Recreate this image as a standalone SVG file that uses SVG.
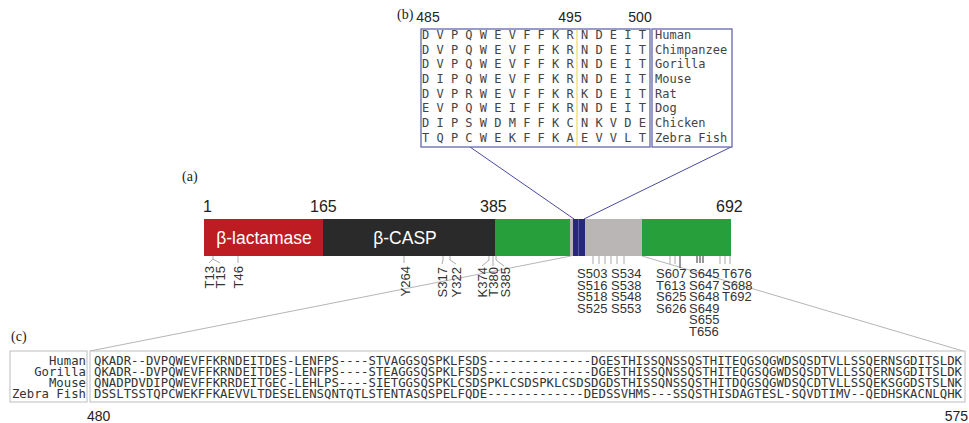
<svg xmlns="http://www.w3.org/2000/svg" width="969" height="423" viewBox="0 0 969 423">
<style>
.lbl{font-family:"Liberation Serif",serif;font-size:14px;fill:#222}
.num{font-family:"Liberation Sans",Arial,sans-serif;font-size:16px;fill:#222}
.dom{font-family:"Liberation Sans",Arial,sans-serif;font-size:17.5px;fill:#fff;text-anchor:middle}
.site{font-family:"Liberation Sans",Arial,sans-serif;font-size:13px;fill:#333}
.rot{text-anchor:end}
.mono{font-family:"DejaVu Sans Mono",monospace;font-size:12px;fill:#444}
.seq{font-family:"DejaVu Sans Mono",monospace;font-size:12.3px;fill:#333}
.bbox{fill:#fff;stroke:#6367ad;stroke-width:1.3}
.cbox{fill:#fff;stroke:#bdbdbd;stroke-width:1}
.tick{stroke:#aaa;stroke-width:1;fill:none}
.dtick{stroke:#333;stroke-width:1;fill:none}
.zoomb{stroke:#4a4aa0;stroke-width:1;fill:none}
.zoomc{stroke:#b5b5b5;stroke-width:1;fill:none}
</style>

<g id="connectors">
<line class="zoomb" x1="470" y1="147" x2="574" y2="219"/>
<line class="zoomb" x1="731" y1="147" x2="584" y2="219"/>
<line class="zoomc" x1="571" y1="256" x2="90" y2="351"/>
<line class="zoomc" x1="642" y1="256" x2="963" y2="351"/>
</g>

<g id="panel-b">
<text class="lbl" x="397" y="19">(b)</text>
<text class="num" x="428" y="22" text-anchor="middle" style="font-size:14px">485</text>
<text class="num" x="570" y="22" text-anchor="middle" style="font-size:14px">495</text>
<text class="num" x="640" y="22" text-anchor="middle" style="font-size:14px">500</text>
<rect class="bbox" x="421" y="29" width="229" height="118"/>
<rect class="bbox" x="652" y="29" width="80" height="118"/>
<line x1="577" y1="29.7" x2="577" y2="146.3" stroke="#f3e27a" stroke-width="1.5"/>
<g class="mono">
<text x="422" y="39">D V P Q W E V F F K R N D E I T</text>
<text x="422" y="53.65">D V P Q W E V F F K R N D E I T</text>
<text x="422" y="68.3">D V P Q W E V F F K R N D E I T</text>
<text x="422" y="82.95">D I P Q W E V F F K R N D E I T</text>
<text x="422" y="97.6">D V P R W E V F F K R K D E I T</text>
<text x="422" y="112.25">E V P Q W E I F F K R N D E I T</text>
<text x="422" y="126.9">D I P S W D M F F K C N K V D E</text>
<text x="422" y="141.55">T Q P C W E K F F K A E V V L T</text>
<text x="655" y="39">Human</text>
<text x="655" y="53.65">Chimpanzee</text>
<text x="655" y="68.3">Gorilla</text>
<text x="655" y="82.95">Mouse</text>
<text x="655" y="97.6">Rat</text>
<text x="655" y="112.25">Dog</text>
<text x="655" y="126.9">Chicken</text>
<text x="655" y="141.55">Zebra Fish</text>
</g>
</g>

<g id="panel-a">
<text class="lbl" x="182" y="181">(a)</text>
<text class="num" x="203" y="212">1</text>
<text class="num" x="310" y="212">165</text>
<text class="num" x="480" y="212">385</text>
<text class="num" x="716" y="212">692</text>
<g id="bar">
<rect x="204" y="219" width="119" height="37" fill="#bc1c22"/>
<rect x="323" y="219" width="172" height="37" fill="#2a2a2a"/>
<rect x="495" y="219" width="75" height="37" fill="#27a03c"/>
<rect x="570" y="219" width="3" height="37" fill="#b9b5b5"/>
<rect x="573" y="219" width="12" height="37" fill="#27287a"/>
<line x1="578.5" y1="219" x2="578.5" y2="256" stroke="#5a5aa0" stroke-width="1"/>
<rect x="585" y="219" width="57" height="37" fill="#bab6b6"/>
<rect x="642" y="219" width="89" height="37" fill="#27a03c"/>
<text class="dom" x="264" y="244">β-lactamase</text>
<text class="dom" x="405" y="244">β-CASP</text>
</g>
<g id="ticks">
<polyline class="tick" points="213,256 213,259 209,263"/>
<polyline class="tick" points="213,259 220,263"/>
<line class="tick" x1="238" y1="256" x2="238" y2="263"/>
<line class="tick" x1="404" y1="256" x2="404" y2="263"/>
<polyline class="tick" points="443,256 443,260 442,264"/>
<polyline class="tick" points="450,256 450,260 456,264"/>
<polyline class="tick" points="489,256 489,260 482,266"/>
<polyline class="tick" points="493,256 493,266"/>
<polyline class="tick" points="496,256 496,260 504,266"/>
<line class="tick" x1="593" y1="256" x2="593" y2="264"/>
<line class="tick" x1="599" y1="256" x2="599" y2="264"/>
<line class="tick" x1="605" y1="256" x2="605" y2="264"/>
<line class="tick" x1="611" y1="256" x2="611" y2="264"/>
<line class="tick" x1="617" y1="256" x2="617" y2="264"/>
<line class="tick" x1="624" y1="256" x2="624" y2="264"/>
<line class="tick" x1="670" y1="256" x2="670" y2="264"/>
<line class="tick" x1="675" y1="256" x2="675" y2="264"/>
<line class="dtick" x1="680" y1="256" x2="680" y2="268"/>
<line class="dtick" x1="697" y1="256" x2="697" y2="263"/>
<line class="dtick" x1="700" y1="256" x2="700" y2="263"/>
<line class="dtick" x1="703" y1="256" x2="703" y2="263"/>
<line class="tick" x1="720" y1="256" x2="720" y2="264"/>
<line class="tick" x1="725" y1="256" x2="725" y2="264"/>
<line class="tick" x1="730" y1="256" x2="730" y2="264"/>
</g>
<g id="sites" class="site">
<text class="rot" transform="translate(213.5,266) rotate(-90)">T13</text>
<text class="rot" transform="translate(225,266) rotate(-90)">T15</text>
<text class="rot" transform="translate(243,266) rotate(-90)">T46</text>
<text class="rot" transform="translate(410,266) rotate(-90)">Y264</text>
<text class="rot" transform="translate(447,267) rotate(-90)">S317</text>
<text class="rot" transform="translate(461,267) rotate(-90)">Y322</text>
<text class="rot" transform="translate(487,267) rotate(-90)">K374</text>
<text class="rot" transform="translate(498,267) rotate(-90)">T380</text>
<text class="rot" transform="translate(509.5,267) rotate(-90)">S385</text>
<text x="577" y="278">S503</text><text x="577" y="289.5">S516</text><text x="577" y="301">S518</text><text x="577" y="312.5">S525</text>
<text x="611" y="278">S534</text><text x="611" y="289.5">S538</text><text x="611" y="301">S548</text><text x="611" y="312.5">S553</text>
<text x="656" y="278">S607</text><text x="656" y="289.5">T613</text><text x="656" y="301">S625</text><text x="656" y="312.5">S626</text>
<text x="689" y="278">S645</text><text x="689" y="289.5">S647</text><text x="689" y="301">S648</text><text x="689" y="312.5">S649</text><text x="689" y="324">S655</text><text x="689" y="335.5">T656</text>
<text x="722" y="278">T676</text><text x="722" y="289.5">S688</text><text x="722" y="301">T692</text>
</g>
</g>

<g id="panel-c">
<text class="lbl" x="11" y="341">(c)</text>
<rect class="cbox" x="10" y="351" width="77" height="51"/>
<rect class="cbox" x="90" y="351" width="875" height="51"/>
<g class="seq">
<text x="86" y="364.5" text-anchor="end">Human</text>
<text x="86" y="375.8" text-anchor="end">Gorilla</text>
<text x="86" y="387" text-anchor="end">Mouse</text>
<text x="86" y="398.3" text-anchor="end">Zebra Fish</text>
<text x="94" y="364.5" textLength="868" lengthAdjust="spacing">QKADR--DVPQWEVFFKRNDEITDES-LENFPS----STVAGGSQSPKLFSDS--------------DGESTHISSQNSSQSTHITEQGSQGWDSQSDTVLLSSQERNSGDITSLDK</text>
<text x="94" y="375.8" textLength="868" lengthAdjust="spacing">QKADR--DVPQWEVFFKRNDEITDES-LENFPS----STEAGGSQSPKLFSDS--------------DGESTHISSQNSSQSTHITEQGSQGWDSQSDTVLLSSQERNSGDITSLDK</text>
<text x="94" y="387" textLength="868" lengthAdjust="spacing">QNADPDVDIPQWEVFFKRRDEITGEC-LEHLPS----SIETGGSQSPKLCSDSPKLCSDSPKLCSDSDGDSTHISSQNSSQSTHITDQGSQGWDSQCDTVLLSSQEKSGGDSTSLNK</text>
<text x="94" y="398.3" textLength="868" lengthAdjust="spacing">DSSLTSSTQPCWEKFFKAEVVLTDESELENSQNTQTLSTENTASQSPELFQDE-------------DEDSSVHMS---SSQSTHISDAGTESL-SQVDTIMV--QEDHSKACNLQHK</text>
</g>
<text class="num" x="87" y="421" style="font-size:14px">480</text>
<text class="num" x="968" y="421" text-anchor="end" style="font-size:14px">575</text>
</g>
</svg>
